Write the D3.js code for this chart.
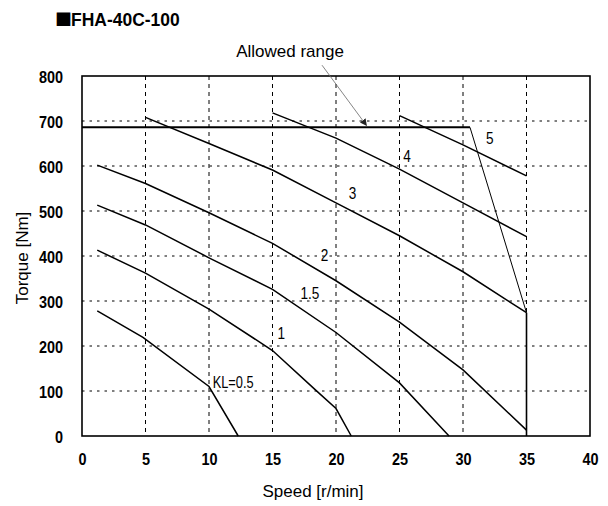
<!DOCTYPE html>
<html>
<head>
<meta charset="utf-8">
<script src="https://cdn.jsdelivr.net/npm/d3@7"></script>
<style>
  body { margin: 0; background: #fff; }
  svg { display: block; }
</style>
</head>
<body>
<svg id="chart" width="608" height="506"></svg>
<script>
// ---- data ----
const titleMark = "■";
const titleText = "FHA-40C-100";
const xTicks = [0, 5, 10, 15, 20, 25, 30, 35, 40];
const yTicks = [0, 100, 200, 300, 400, 500, 600, 700, 800];
const curveKL05 = [[1.2, 278], [4.8, 219], [10, 110], [12.3, 0]];
const curveKL1 = [[1.2, 413], [5, 362], [10, 282], [15, 190], [18.4, 102], [20, 61], [21.2, 0]];
const curveKL15 = [[1.2, 513], [5, 469], [10, 396], [15, 326], [20, 230], [25, 118], [28.9, 0]];
const curveKL2 = [[1.2, 602], [5, 561], [10, 496], [15, 428], [20, 345], [25, 253], [30, 147], [35, 13]];
const curveKL3 = [[5, 708], [10, 650], [15, 591], [20, 518], [25, 445], [30, 365], [35, 274]];
const curveKL4 = [[15, 718], [20, 662], [25, 593], [30, 518], [35, 443]];
const curveKL5 = [[25, 712], [30, 647], [35, 578]];
const curves = [curveKL05, curveKL1, curveKL15, curveKL2, curveKL3, curveKL4, curveKL5];
const curveLabels = ["KL=0.5", "1", "1.5", "2", "3", "4", "5"];
const labelX = [11.9, 15.7, 17.95, 19.1, 21.3, 25.6, 32.1];
const labelY = [120, 229, 318, 402, 540, 622, 662];
const allowedTop = [[0, 686], [30.55, 686]];
const allowedSlope = [[30.55, 686], [35, 274]];
const allowedRight = [[35, 274], [35, 0]];
const arrowFrom = [18.9, 824];
const arrowTo = [22.4, 690];
const allowedText = "Allowed range";
const xTitle = "Speed [r/min]";
const yTitle = "Torque [Nm]";

// ---- layout ----
const svg = d3.select("#chart");
const x = d3.scaleLinear().domain([0, 40]).range([82, 590]);
const y = d3.scaleLinear().domain([0, 800]).range([436, 76]);
const sans = "'Liberation Sans', Arial, sans-serif";
const SX = 0.85; // horizontal condensing factor for tick labels

svg.append("defs").append("marker")
  .attr("id", "arrowhead").attr("viewBox", "0 0 10 10")
  .attr("refX", 9).attr("refY", 5)
  .attr("markerWidth", 7).attr("markerHeight", 7)
  .attr("markerUnits", "userSpaceOnUse")
  .attr("orient", "auto")
  .append("path").attr("d", "M0,0 L10,5 L0,10 z").attr("fill", "#222");

// title
svg.append("text")
  .attr("x", 55).attr("y", 26)
  .attr("font-family", "'Noto Sans CJK JP', sans-serif")
  .attr("font-size", 17).attr("fill", "#000").text(titleMark);
svg.append("text")
  .attr("transform", `translate(71,25.5) scale(0.92,1)`)
  .attr("font-family", sans).attr("font-weight", "bold")
  .attr("font-size", 19).attr("fill", "#000").text(titleText);

// grid lines
svg.append("g").selectAll("line").data(xTicks.slice(1, -1)).join("line")
  .attr("x1", d => x(d)).attr("x2", d => x(d))
  .attr("y1", y(800)).attr("y2", y(0))
  .attr("stroke", "#000").attr("stroke-width", 1)
  .attr("stroke-dasharray", "4,4");
svg.append("g").selectAll("line").data(yTicks.slice(1, -1)).join("line")
  .attr("x1", x(0)).attr("x2", x(40))
  .attr("y1", d => y(d)).attr("y2", d => y(d))
  .attr("stroke", "#000").attr("stroke-width", 1)
  .attr("stroke-dasharray", "2.5,5");

// axes (labels only)
const xAxis = d3.axisBottom(x).tickValues(xTicks).tickSize(0).tickPadding(0);
const gx = svg.append("g").attr("transform", `translate(0,${y(0)})`).call(xAxis);
gx.select(".domain").remove();
gx.selectAll("text").attr("dy", null).attr("y", 29).attr("x", 0)
  .attr("transform", `scale(${SX},1)`)
  .attr("font-family", sans).attr("font-weight", "bold")
  .attr("font-size", 17).attr("fill", "#000");

const yAxis = d3.axisLeft(y).tickValues(yTicks).tickSize(0).tickPadding(0);
const gy = svg.append("g").attr("transform", `translate(${x(0)},0)`).call(yAxis);
gy.select(".domain").remove();
gy.selectAll("text").attr("x", -19 / SX).attr("dy", "0.36em")
  .attr("transform", `scale(${SX},1)`)
  .attr("font-family", sans).attr("font-weight", "bold")
  .attr("font-size", 17).attr("fill", "#000");

// plot border
svg.append("rect").attr("x", x(0)).attr("y", y(800))
  .attr("width", x(40) - x(0)).attr("height", y(0) - y(800))
  .attr("fill", "none").attr("stroke", "#000").attr("stroke-width", 1.6);

const line = d3.line().x(d => x(d[0])).y(d => y(d[1]));

// curves
svg.append("g").selectAll("path").data(curves).join("path")
  .attr("d", line).attr("fill", "none")
  .attr("stroke", "#000").attr("stroke-width", 1.5);

// allowed range boundary
svg.append("path").attr("d", line(allowedTop)).attr("fill", "none")
  .attr("stroke", "#000").attr("stroke-width", 2);
svg.append("path").attr("d", line(allowedSlope)).attr("fill", "none")
  .attr("stroke", "#000").attr("stroke-width", 1);
svg.append("path").attr("d", line(allowedRight)).attr("fill", "none")
  .attr("stroke", "#000").attr("stroke-width", 1.6);

// arrow annotation
svg.append("line")
  .attr("x1", x(arrowFrom[0])).attr("y1", y(arrowFrom[1]))
  .attr("x2", x(arrowTo[0])).attr("y2", y(arrowTo[1]))
  .attr("stroke", "#666").attr("stroke-width", 0.8)
  .attr("marker-end", "url(#arrowhead)");
svg.append("text").attr("x", 290).attr("y", 57)
  .attr("text-anchor", "middle")
  .attr("font-family", sans)
  .attr("font-size", 17).attr("fill", "#000").text(allowedText);

// curve labels
svg.append("g").selectAll("text").data(curveLabels).join("text")
  .attr("transform", (d, i) => `translate(${x(labelX[i])},${y(labelY[i])}) scale(0.8,1)`)
  .attr("text-anchor", "middle").attr("dy", "0.36em")
  .attr("font-family", sans)
  .attr("font-size", (d, i) => i === 0 ? 16 : 17)
  .attr("fill", "#000").text(d => d);

// axis titles
svg.append("text").attr("x", 313).attr("y", 497)
  .attr("text-anchor", "middle")
  .attr("font-family", sans)
  .attr("font-size", 17).attr("fill", "#000").text(xTitle);
svg.append("text")
  .attr("transform", `translate(28,258) rotate(-90)`)
  .attr("text-anchor", "middle")
  .attr("font-family", sans)
  .attr("font-size", 17).attr("fill", "#000").text(yTitle);
</script>
</body>
</html>
